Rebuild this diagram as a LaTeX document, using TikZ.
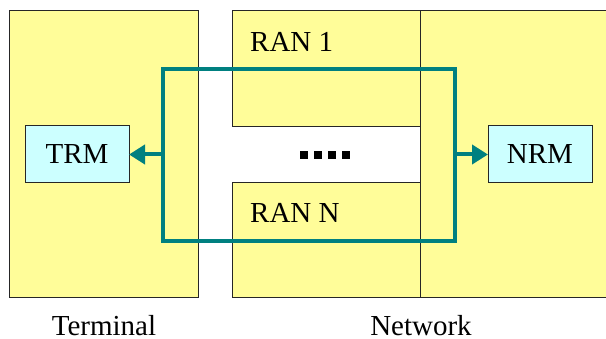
\documentclass[tikz,border=0pt]{standalone}
\usepackage{fontspec}
\setmainfont{Liberation Serif}
\usepackage{tikz}
\usetikzlibrary{arrows.meta,positioning}
\usepackage{xcolor}

\definecolor{boxyellow}{RGB}{255,253,153}
\definecolor{modcyan}{RGB}{204,255,255}
\definecolor{loopteal}{RGB}{0,128,128}
\newcommand{\labelsize}{\fontsize{29}{34}\selectfont}

\begin{document}
\begin{tikzpicture}[x=1pt,y=-1pt,
		area/.style={draw=black!85, fill=boxyellow, line width=1pt, anchor=north west, inner sep=0pt, outer sep=0pt},
		unit/.style={draw=black!85, fill=modcyan, line width=1pt, minimum width=104pt, minimum height=57pt, inner sep=0pt, outer sep=0pt, font=\labelsize},
		caption/.style={anchor=base, inner sep=0pt, font=\labelsize},
		loop/.style={draw=loopteal, line width=4pt},
		flow/.style={draw=loopteal, line width=4pt, -{Triangle[length=16pt,width=19pt]}}]
			\useasboundingbox (0,0) rectangle (606,339);
			\clip (0,0) rectangle (606,339);
			
			\node [area, minimum width=189pt, minimum height=287pt] (terminal) at (9,11) {};
			\node [area, minimum width=190pt, minimum height=287pt] (core) at (420,11) {};
			\node [area, minimum width=188pt, minimum height=116pt] (ran1) at (232,11) {};
			\node [area, minimum width=188pt, minimum height=115pt] (ranN) at (232,183) {};
			
			\node [caption, anchor=base west] (ran1 label) at (250,52) {RAN 1};
			\node [caption, anchor=base west] (ranN label) at (250,223) {RAN N};
			
			\node [unit, anchor=north west] (trm) at (25,126) {TRM};
			\node [unit, anchor=north west] (nrm) at (488,126) {NRM};
			
			%\node [caption] at (325,160) {....};
			\foreach \dx in {0,14,28,42}
				\fill (300+\dx,151) rectangle ++(8,8);
			
			\draw [loop] (163,69) rectangle (455,241);
			\coordinate (loop west) at (163,154.5);
			\coordinate (loop east) at (455,154.5);
			\draw [flow] (loop west) -- (trm.east);
			\draw [flow] (loop east) -- (nrm.west);
			
			\node [caption] (terminal label) at (104,336) {Terminal};
			\node [caption] (network label) at (421,336) {Network};
		\end{tikzpicture}
\end{document}
